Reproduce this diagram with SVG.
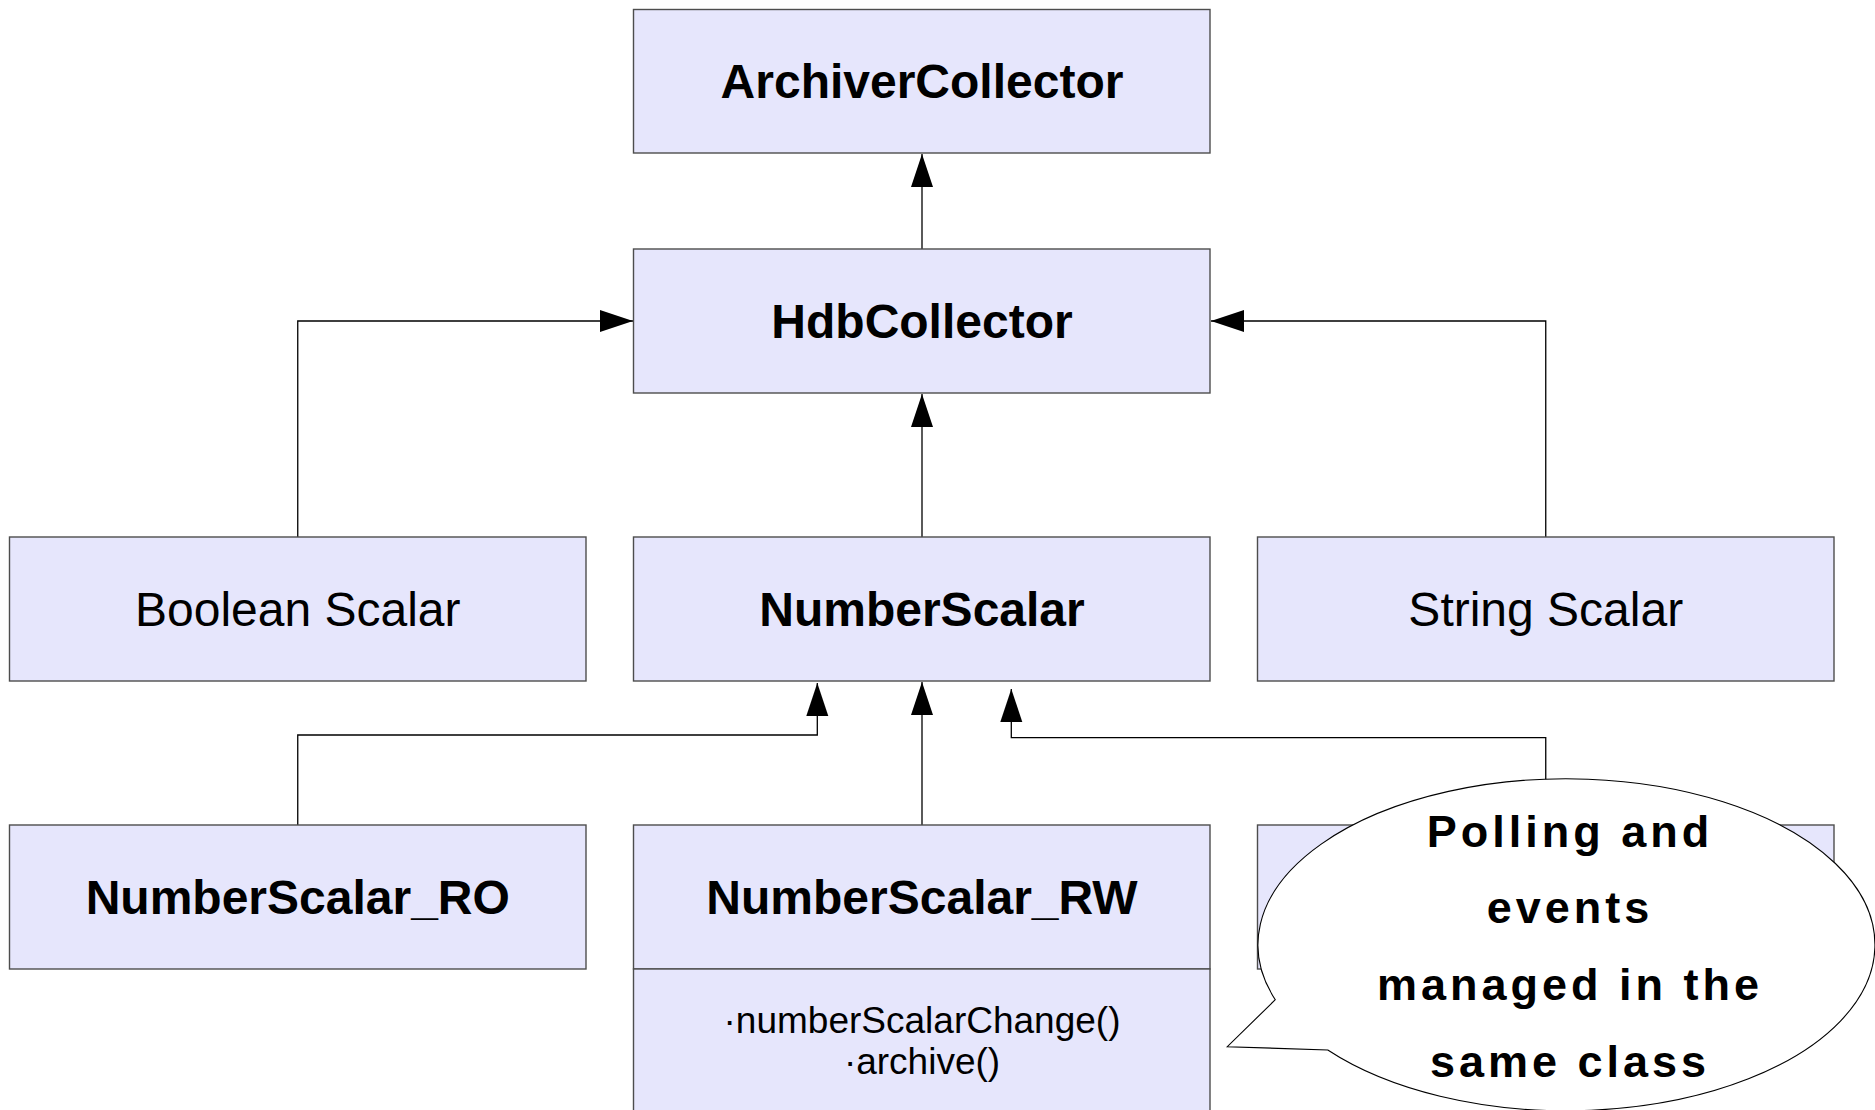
<svg xmlns="http://www.w3.org/2000/svg" width="1875" height="1110" viewBox="0 0 1875 1110">
<style>
.box{fill:#e6e6fc;stroke:#4d4d4d;stroke-width:1.4}
.t{font-family:"Liberation Sans",Arial,sans-serif;font-size:48px;text-anchor:middle;fill:#000}
.b{font-weight:bold}
.m{font-family:"Liberation Sans",Arial,sans-serif;font-size:37px;text-anchor:middle;fill:#000}
.c{font-family:"Liberation Sans",Arial,sans-serif;font-size:45px;font-weight:bold;letter-spacing:4px;text-anchor:middle;fill:#000}
.ln{fill:none;stroke:#000;stroke-width:1.3}
</style>
<defs>
<marker id="ah" markerUnits="userSpaceOnUse" markerWidth="34" markerHeight="24" refX="33" refY="11" orient="auto">
<path d="M0,0 L33,11 L0,22 z" fill="#000"/>
</marker>
</defs>
<rect width="1875" height="1110" fill="#fff"/>
<g id="connectors">
<path class="ln" d="M922 249 V154" marker-end="url(#ah)"/>
<path class="ln" d="M297.75 537 V321 H633" marker-end="url(#ah)"/>
<path class="ln" d="M1545.75 537 V321 H1211" marker-end="url(#ah)"/>
<path class="ln" d="M922 537 V394" marker-end="url(#ah)"/>
<path class="ln" d="M297.75 825 V735 H817.3 V683" marker-end="url(#ah)"/>
<path class="ln" d="M922 825 V682" marker-end="url(#ah)"/>
<path class="ln" d="M1545.75 825 V737.7 H1011.3 V689" marker-end="url(#ah)"/>
</g>
<g id="ArchiverCollector">
<rect class="box" x="633.5" y="9.5" width="576.5" height="143.5"/>
<text class="t b" x="922" y="98">ArchiverCollector</text>
</g>
<g id="HdbCollector">
<rect class="box" x="633.5" y="249" width="576.5" height="144"/>
<text class="t b" x="922" y="338">HdbCollector</text>
</g>
<g id="BooleanScalar">
<rect class="box" x="9.5" y="537" width="576.5" height="144"/>
<text class="t" x="297.75" y="626">Boolean Scalar</text>
</g>
<g id="NumberScalar">
<rect class="box" x="633.5" y="537" width="576.5" height="144"/>
<text class="t b" x="922" y="626">NumberScalar</text>
</g>
<g id="StringScalar">
<rect class="box" x="1257.5" y="537" width="576.5" height="144"/>
<text class="t" x="1545.75" y="626">String Scalar</text>
</g>
<g id="NumberScalar_RO">
<rect class="box" x="9.5" y="825" width="576.5" height="144"/>
<text class="t b" x="297.75" y="914">NumberScalar_RO</text>
</g>
<g id="NumberScalar_RW">
<rect class="box" x="633.5" y="825" width="576.5" height="144"/>
<rect class="box" x="633.5" y="969" width="576.5" height="160"/>
<text class="t b" x="922" y="914">NumberScalar_RW</text>
<text class="m" x="922" y="1032.5">·numberScalarChange()</text>
<text class="m" x="922" y="1074">·archive()</text>
</g>
<g id="NumberScalar_third">
<rect class="box" x="1257.5" y="825" width="576.5" height="144"/>
</g>
<g id="callout">
<path d="M1275.3 999.7 L1227.3 1046.7 L1327.8 1050 A308.5 166 0 1 0 1275.3 999.7 Z" fill="#fff" stroke="#000" stroke-width="1.1"/>
<text class="c" x="1570" y="846.5">Polling and</text>
<text class="c" x="1570" y="923.3">events</text>
<text class="c" x="1570" y="1000">managed in the</text>
<text class="c" x="1570" y="1076.7">same class</text>
</g>
</svg>
